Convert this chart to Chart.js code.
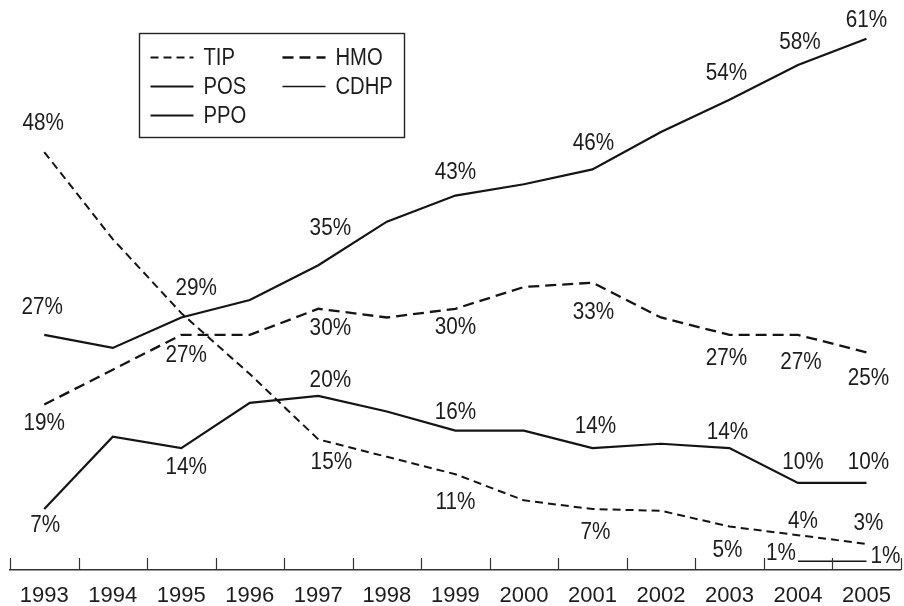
<!DOCTYPE html>
<html>
<head>
<meta charset="utf-8">
<title>Plan enrollment shares, 1993–2005</title>
<script src="https://cdn.jsdelivr.net/npm/chart.js@4/dist/chart.umd.min.js"></script>
<style>
  html, body { margin: 0; padding: 0; background: #ffffff; }
  #wrap { width: 904px; height: 606px; }
</style>
</head>
<body>
<div id="wrap"><canvas id="chart" width="904" height="606"></canvas></div>
<script>
// Enrollment share by plan type, percent of covered workers
const years = ['1993', '1994', '1995', '1996', '1997', '1998', '1999', '2000', '2001', '2002', '2003', '2004', '2005'];
const tip  = [48, 38, 29.5, 22.5, 15, 13, 11, 8, 7, 6.8, 5, 4, 3];
const hmo  = [19, 23, 27, 27, 30, 29, 30, 32.5, 33, 29, 27, 27, 25];
const pos  = [7, 15.3, 14, 19.2, 20, 18.2, 16, 16, 14, 14.5, 14, 10, 10];
const cdhp = [null, null, null, null, null, null, null, null, null, null, null, 1, 1];
const ppo  = [27, 25.5, 29, 31, 35, 40, 43, 44.3, 46, 50.3, 54, 58, 61];

// Where each value label sits relative to its point: index -> [dx, dy]
const labelPlacement = {
  TIP:  { 0: [-1, -29], 4: [13, 22], 6: [0, 27], 8: [3, 23], 10: [-2, 23], 11: [5, -15], 12: [2, -21] },
  HMO:  { 0: [0, 18], 2: [5, 20], 4: [12, 19], 6: [0, 18], 8: [1, 29], 10: [-3, 23], 11: [3, 27], 12: [2, 25] },
  POS:  { 0: [1, 16], 2: [5, 19], 4: [12, -16], 6: [0, -19], 8: [3, -22], 10: [-2, -16], 11: [5, -21], 12: [2, -21] },
  CDHP: { 11: [-17, -9], 12: [19, -6] },
  PPO:  { 0: [-2, -28], 2: [15, -30], 4: [12, -38], 6: [0, -24], 8: [1, -27], 10: [-3, -27], 11: [2, -23], 12: [0, -19] }
};

const INK = '#141414';
const TEXT = '#1c1c1c';
const FONT = '"Liberation Sans", Arial, Helvetica, sans-serif';

function seriesStyle(label, data, width, dash) {
  return {
    label, data,
    borderColor: INK,
    backgroundColor: INK,
    borderWidth: width,
    borderDash: dash,
    pointRadius: 0,
    pointHoverRadius: 0,
    tension: 0,
    fill: false,
    spanGaps: false
  };
}

// Percent labels beside the points
const valueLabels = {
  id: 'valueLabels',
  afterDatasetsDraw(chart) {
    const ctx = chart.ctx;
    ctx.save();
    ctx.font = '23px ' + FONT;
    ctx.fillStyle = TEXT;
    ctx.textAlign = 'center';
    ctx.textBaseline = 'middle';
    chart.data.datasets.forEach((ds, di) => {
      const meta = chart.getDatasetMeta(di);
      const place = labelPlacement[ds.label] || {};
      Object.keys(place).forEach(k => {
        const i = Number(k);
        const el = meta.data[i];
        if (!el || ds.data[i] == null) return;
        const [dx, dy] = place[k];
        ctx.save();
        ctx.translate(el.x + dx, el.y + dy);
        ctx.scale(0.9, 1);
        ctx.fillText(ds.data[i] + '%', 0, 1);
        ctx.restore();
      });
    });
    ctx.restore();
  }
};

// Short upward tick marks between the year categories
const innerTicks = {
  id: 'innerTicks',
  afterDraw(chart) {
    const xs = chart.scales.x;
    const n = chart.data.labels.length;
    const step = xs.getPixelForValue(1) - xs.getPixelForValue(0);
    const ctx = chart.ctx;
    ctx.save();
    ctx.strokeStyle = '#333';
    ctx.lineWidth = 1.2;
    ctx.beginPath();
    for (let i = 0; i <= n; i++) {
      const x = Math.round(xs.getPixelForValue(Math.min(i, n - 1)) + (i < n ? -step / 2 : step / 2)) + 0.5;
      ctx.moveTo(x, xs.top);
      ctx.lineTo(x, xs.top - 12);
    }
    ctx.stroke();
    ctx.restore();
  }
};

// Boxed two-column key in the upper left
const boxedKey = {
  id: 'boxedKey',
  afterDraw(chart) {
    const ctx = chart.ctx;
    const ca = chart.chartArea;
    const box = { x: ca.left + 129.5, y: 33.5, w: 265, h: 104 };
    ctx.save();
    ctx.strokeStyle = '#222';
    ctx.lineWidth = 1.4;
    ctx.strokeRect(box.x, box.y, box.w, box.h);
    ctx.font = '23px ' + FONT;
    ctx.fillStyle = TEXT;
    ctx.textAlign = 'left';
    ctx.textBaseline = 'middle';
    chart.data.datasets.forEach((ds, i) => {
      const col = i % 2, row = Math.floor(i / 2);
      const x0 = box.x + 11 + col * 132;
      const y = box.y + 24 + row * 29;
      ctx.save();
      ctx.strokeStyle = ds.borderColor;
      ctx.lineWidth = ds.borderWidth;
      ctx.setLineDash(ds.borderDash || []);
      ctx.beginPath();
      ctx.moveTo(x0, y);
      ctx.lineTo(x0 + 43, y);
      ctx.stroke();
      ctx.restore();
      ctx.save();
      ctx.translate(x0 + 53, y + 1);
      ctx.scale(0.88, 1);
      ctx.fillText(ds.label, 0, 0);
      ctx.restore();
    });
    ctx.restore();
  }
};

new Chart(document.getElementById('chart'), {
  type: 'line',
  data: {
    labels: years,
    datasets: [
      seriesStyle('TIP', tip, 2, [8, 5]),
      seriesStyle('HMO', hmo, 2.3, [11, 6]),
      seriesStyle('POS', pos, 2.2, []),
      seriesStyle('CDHP', cdhp, 1.6, []),
      seriesStyle('PPO', ppo, 2.2, [])
    ]
  },
  options: {
    responsive: false,
    animation: false,
    devicePixelRatio: 1,
    layout: { padding: { left: 10, right: 1, top: 4, bottom: 0 } },
    plugins: {
      legend: { display: false },
      tooltip: { enabled: false },
      title: { display: false }
    },
    scales: {
      x: {
        offset: true,
        grid: { display: false, offset: true, drawTicks: false },
        border: { display: true, color: '#333', width: 1.4 },
        ticks: {
          color: TEXT,
          padding: 13,
          maxRotation: 0,
          autoSkip: false,
          font: { family: FONT, size: 22 }
        },
        afterFit(scale) { scale.height = 36; }
      },
      y: {
        display: false,
        min: 0,
        max: 65
      }
    }
  },
  plugins: [valueLabels, innerTicks, boxedKey]
});
</script>
</body>
</html>
